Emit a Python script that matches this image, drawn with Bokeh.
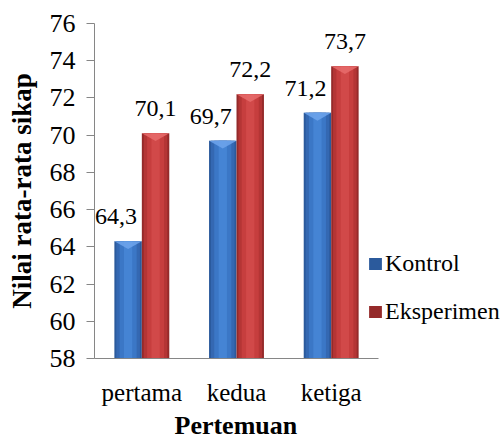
from bokeh.plotting import figure
from bokeh.models import (ColumnDataSource, Range1d, SingleIntervalTicker, FixedTicker,
                          Legend, LegendItem, Title)
from bokeh.transform import dodge
from bokeh.core.properties import value
from bokeh.embed import file_html
from bokeh.resources import INLINE

categories = ["pertama", "kedua", "ketiga"]
kontrol = [64.3, 69.7, 71.2]
eksperimen = [70.1, 72.2, 73.7]
series_names = ["Kontrol", "Eksperimen"]
x_title = "Pertemuan"
y_title = "Nilai rata-rata sikap"

def fmt(v):
    return f"{v:.1f}".replace(".", ",")

xpos = [i + 0.5 for i in range(len(categories))]
src = ColumnDataSource(dict(
    x=xpos,
    kontrol=kontrol,
    eksperimen=eksperimen,
    lab_k=[fmt(v) for v in kontrol],
    lab_e=[fmt(v) for v in eksperimen],
))

FONT = "'Liberation Serif', 'Times New Roman', serif"
W, H = 501, 439
LEFT, BOTTOM, TOP = 94, 77, 23
CAT_PX = 94.67
frame_w = W - LEFT
YMIN, YMAX = 58, 76
p = figure(width=W, height=H, x_range=Range1d(0, frame_w / CAT_PX),
           y_range=Range1d(YMIN, YMAX), output_backend="svg", toolbar_location=None,
           min_border_left=LEFT, min_border_right=0, min_border_top=TOP,
           min_border_bottom=BOTTOM)
p.outline_line_color = None
p.xgrid.visible = False
p.ygrid.visible = False

bw = 0.29
off = bw / 2
blue_layers = ["#2b5a9c", "#3468b2", "#3b77c6", "#4584d4"]
red_layers = ["#952a2a", "#b43535", "#c63e3e", "#d14949"]
fracs = [1.0, 0.86, 0.62, 0.3]

r_k = None
r_e = None
for i, f in enumerate(fracs):
    rk = p.vbar(x=dodge("x", -off), top="kontrol", bottom=YMIN,
                width=bw * f, source=src, fill_color=blue_layers[i], line_color=None)
    re_ = p.vbar(x=dodge("x", off), top="eksperimen", bottom=YMIN,
                 width=bw * f, source=src, fill_color=red_layers[i], line_color=None)
    if i == 0:
        r_k, r_e = rk, re_

# light bevel triangle at each bar top
tri_depth = 0.42
def tri(center, top):
    return ([center - bw / 2, center + bw / 2, center], [top, top, top - tri_depth])
tk = [tri(x - off, v) for x, v in zip(xpos, kontrol)]
te = [tri(x + off, v) for x, v in zip(xpos, eksperimen)]
p.patches(xs=[t[0] for t in tk], ys=[t[1] for t in tk], fill_color="#6ea5ec",
          fill_alpha=0.85, line_color=None)
p.patches(xs=[t[0] for t in te], ys=[t[1] for t in te], fill_color="#e86c6c",
          fill_alpha=0.85, line_color=None)

p.text(x=dodge("x", -off), y="kontrol", text="lab_k", source=src,
       x_offset=-12, y_offset=-17, text_align="center", text_baseline="bottom",
       text_font=value(FONT), text_font_size="24px", text_color="black")
p.text(x=dodge("x", off), y="eksperimen", text="lab_e", source=src,
       x_offset=0, y_offset=-17, text_align="center", text_baseline="bottom",
       text_font=value(FONT), text_font_size="24px", text_color="black")

ax = p.yaxis[0]
ax.ticker = SingleIntervalTicker(interval=2)
ax.axis_line_color = "#868686"
ax.major_tick_line_color = "#868686"
ax.major_tick_out = 8
ax.major_tick_in = 0
ax.minor_tick_line_color = None
ax.major_label_text_font = FONT
ax.major_label_text_font_size = "26px"
ax.major_label_text_color = "black"
ax.major_label_standoff = 11
ax.axis_label = y_title
ax.axis_label_text_font = FONT
ax.axis_label_text_font_size = "27px"
ax.axis_label_text_font_style = "bold"
ax.axis_label_text_color = "black"
ax.axis_label_standoff = 10

bx = p.xaxis[0]
bx.ticker = FixedTicker(ticks=xpos)
bx.major_label_overrides = {x: c for x, c in zip(xpos, categories)}
bx.bounds = (0, len(categories))
bx.axis_line_color = "#868686"
bx.major_tick_line_color = None
bx.major_tick_out = 0
bx.minor_tick_line_color = None
bx.major_label_text_font = FONT
bx.major_label_text_font_size = "25px"
bx.major_label_text_color = "black"
bx.major_label_standoff = 20

t = Title(text=x_title, align="left", offset=80, standoff=0,
          text_font=FONT, text_font_size="26px", text_font_style="bold",
          text_color="black")
p.add_layout(t, "below")

legend = Legend(items=[LegendItem(label=series_names[0], renderers=[r_k]),
                       LegendItem(label=series_names[1], renderers=[r_e])],
                location=(273, 33), orientation="vertical",
                padding=0, margin=0, border_line_color=None, background_fill_alpha=0,
                glyph_width=16, glyph_height=15, label_standoff=2, label_height=28,
                spacing=20, label_text_font=FONT, label_text_font_size="24px",
                label_text_color="black")
p.add_layout(legend, "center")

open("out.html", "w").write(file_html(p, INLINE))
